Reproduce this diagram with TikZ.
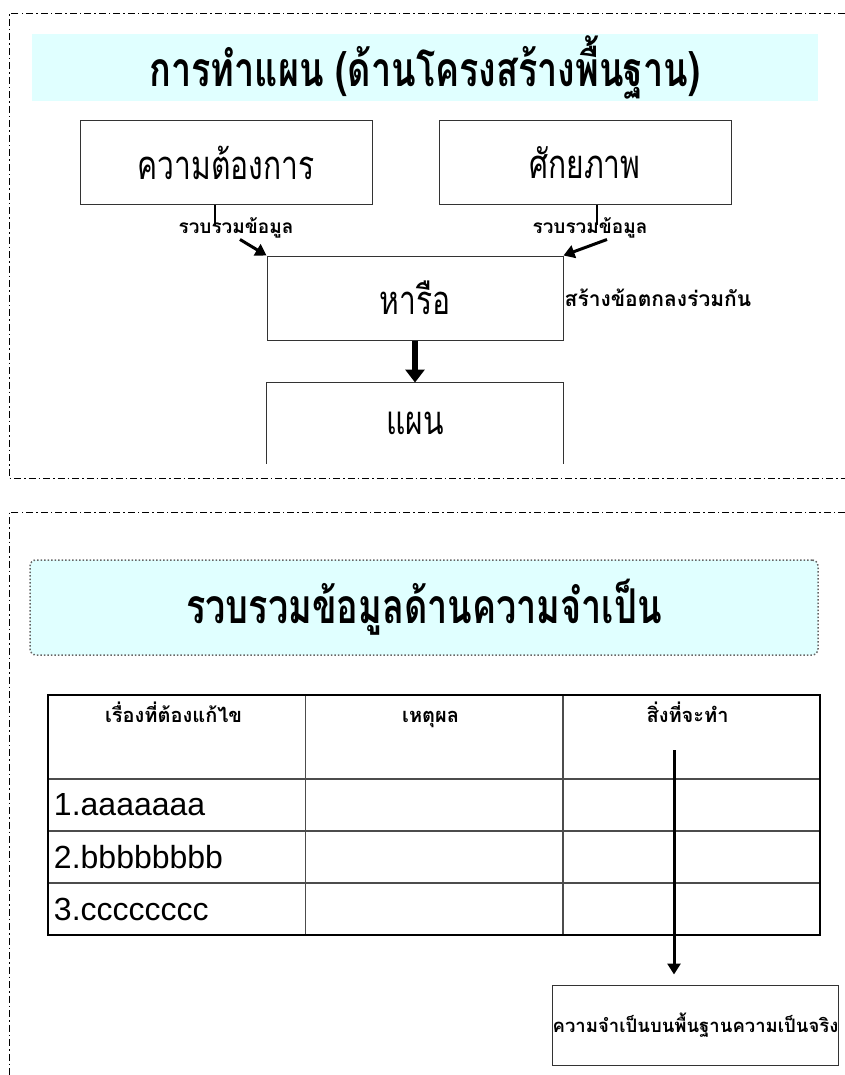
\documentclass[tikz,border=0pt]{standalone}
\usepackage{fontspec}
\setmainfont{Liberation Sans}
\newfontfamily\thai[Script=Thai,FakeStretch=0.75]{Loma}
\newfontfamily\thaiplain[Script=Thai]{Loma}
\usetikzlibrary{arrows.meta,positioning,shapes,matrix}
\definecolor{paleblue}{RGB}{224,255,255}

\begin{document}
\begin{tikzpicture}[x=1pt,y=-1pt,
  every matrix/.style={ampersand replacement=\&,column sep=0pt,row sep=0pt,inner sep=0pt},
  frame/.style={line width=1pt,dash pattern=on 7pt off 3pt on 1.5pt off 3pt},
  banner/.style={fill=paleblue,minimum width=786pt,minimum height=67pt,inner sep=0pt,
    font=\thai\bfseries\fontsize{48}{48}\selectfont},
  box/.style={draw=black!80,line width=1pt,minimum width=292pt,minimum height=84pt,inner sep=0pt,
    font=\thai\fontsize{40}{40}\selectfont},
  note/.style={inner sep=1pt,font=\thaiplain\bfseries\fontsize{19}{19}\selectfont},
  cell/.style={draw=black!70,line width=1pt,minimum width=256pt,minimum height=51pt,inner sep=0pt,
    anchor=center,font=\fontsize{32}{32}\selectfont},
  first/.style={cell,text width=246pt,inner xsep=5pt,align=left},
  head/.style={cell,align=center,text height=27pt,text depth=56pt,
    font=\thaiplain\bfseries\fontsize{20}{20}\selectfont},
  to/.style={-{Triangle[width=13pt,length=11pt]},line width=3pt},
  fat/.style={-{Triangle[width=19pt,length=13pt]},line width=6pt}]

    \useasboundingbox (0,0) rectangle (845,1075);

    % upper frame
    \draw[frame] (845,14) -- (9,14) -- (9,478) -- (845,478);
    \node[banner] (title1) at (425,67.5) {การทำแผน (ด้านโครงสร้างพื้นฐาน)};

    \node[box] (need) at (226,163) {ความต้องการ};
    \node[box] (power) at (585,163) {ศักยภาพ};
    \node[note] (gather1) at (236,228) {รวบรวมข้อมูล};
    \node[note] (gather2) at (590,228) {รวบรวมข้อมูล};
    \node[box,minimum width=296pt] (talk) at (415,298) {หารือ};
    \node[note,anchor=west,font=\thaiplain\bfseries\fontsize{21}{21}\selectfont] (agree) at (talk.east) {สร้างข้อตกลงร่วมกัน};
    \node[box,draw=none,minimum width=296pt,minimum height=80pt] (plan) at (415,423) {แผน};
    \draw[black!80,line width=1pt] (plan.south west) -- (plan.north west) -- (plan.north east) -- (plan.south east);

    \draw[line width=1.5pt] ([xshift=-11pt]need.south) -- ++(0,20);
    \draw[line width=1.5pt] ([xshift=12pt]power.south) -- ++(0,20);
    \draw[to] ([xshift=4pt]gather1.south) -- (talk.north west);
    \draw[to] ([xshift=17pt]gather2.south) -- (talk.north east);
    \draw[fat] (talk) -- (plan);

    % lower frame
    \draw[frame] (845,512) -- (9,512) -- (9,1075);
    \node[banner,minimum width=788pt,minimum height=95pt,draw=black!60,line width=1.5pt,
      dotted,rounded corners=6pt] (title2) at (424,607.5) {รวบรวมข้อมูลด้านความจำเป็น};

    \matrix (tbl) [matrix of nodes,nodes in empty cells] at (434,815) {
        |[head]| เรื่องที่ต้องแก้ไข \& |[head]| เหตุผล \& |[head]| สิ่งที่จะทำ \\
        |[first]| 1.aaaaaaa \& |[cell]| \& |[cell]| \\
        |[first]| 2.bbbbbbbb \& |[cell]| \& |[cell]| \\
        |[first]| 3.cccccccc \& |[cell]| \& |[cell]| \\
    };
    \draw[line width=2pt] (tbl.north west) rectangle (tbl.south east);

    \node[box,minimum width=285pt,minimum height=80pt,
      font=\thaiplain\bfseries\fontsize{18.5}{18.5}\selectfont] (real) at (695.5,1025) {ความจำเป็นบนพื้นฐานความเป็นจริง};
    \coordinate (todo) at (674,750);
    \draw[to,shorten >=10pt] (todo) -- (todo |- real.north);
\end{tikzpicture}
\end{document}
